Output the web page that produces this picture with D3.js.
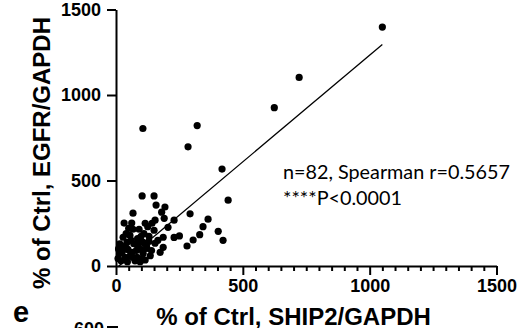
<!DOCTYPE html>
<html>
<head>
<meta charset="utf-8">
<script src="https://cdn.jsdelivr.net/npm/d3@7"></script>
<style>
  body { margin: 0; background: #fff; }
  svg text { font-family: "Liberation Sans", Arial, sans-serif; }
  .axis path, .axis line { stroke: #000; stroke-width: 2; }
</style>
</head>
<body>
<div id="chart"></div>
<script>
// SHIP2 (x) vs EGFR (y), % of Ctrl, n=82
const shipVals = [1050, 722, 624, 106, 320, 284, 418, 442, 292, 363, 343, 330, 304, 280, 403, 422, 250, 229,
  103, 150, 158, 193, 67, 180, 190, 154, 32, 62, 229, 205, 186, 150, 142, 130, 99, 67, 91, 28, 55,
  186, 174, 154, 107, 87, 43, 28, 16, 36, 62, 83, 107, 122, 103, 67, 47, 8, 130,
  20, 45, 75, 95, 115, 135, 55, 25, 80, 100, 120, 70, 40, 60, 85, 110, 125, 50, 15, 140, 90, 10, 35, 165, 115]
const egfrVals = [1397, 1103, 926, 804, 821, 697, 567, 385, 305, 274, 230, 183, 152, 117, 203, 150, 176, 167,
  410, 410, 356, 345, 309, 315, 279, 268, 251, 251, 268, 226, 168, 209, 250, 174, 174, 215, 215, 168, 179,
  109, 80, 133, 138, 109, 138, 109, 74, 50, 80, 50, 74, 103, 44, 50, 97, 44, 144,
  30, 25, 30, 25, 35, 60, 60, 85, 90, 95, 120, 130, 190, 150, 160, 190, 230, 220, 130, 90, 140, 100, 115, 150, 250]
// regression line end points
const fitX = [8, 1050]
const fitY = [-4, 1295]
const xTicks = [0, 500, 1000, 1500]
const yTicks = [0, 500, 1000, 1500]
const statLines = ["n=82, Spearman r=0.5657", "****P<0.0001"]

const width = 526, height = 328

const svg = d3.select("#chart").append("svg")
    .attr("width", width)
    .attr("height", height)

const x = d3.scaleLinear().domain([0, 1500]).range([116, 496.5])
const y = d3.scaleLinear().domain([0, 1500]).range([266, 9.5])

function styleTicks(g) {
    g.selectAll(".tick text")
        .attr("fill", "#000")
        .style("font-family", "'Liberation Sans', Arial, sans-serif")
        .style("font-weight", "bold")
        .style("font-size", "18px")
}

// minor ticks on x
const minor = d3.range(0, 1501, 50).filter(v => v % 500 !== 0)
svg.append("g")
    .attr("class", "axis")
    .attr("transform", `translate(0,${y(0)})`)
    .call(d3.axisBottom(x).tickValues(minor).tickSize(5).tickSizeOuter(0).tickFormat(""))
    .call(g => g.select(".domain").remove())

svg.append("g")
    .attr("class", "axis")
    .attr("transform", `translate(0,${y(0)})`)
    .call(d3.axisBottom(x).tickValues(xTicks).tickSize(9).tickSizeOuter(0).tickPadding(4).tickFormat(d3.format("d")))
    .call(styleTicks)

svg.append("g")
    .attr("class", "axis")
    .attr("transform", `translate(${x(0)},0)`)
    .call(d3.axisLeft(y).tickValues(yTicks).tickSize(9).tickSizeOuter(0).tickPadding(6).tickFormat(d3.format("d")))
    .call(styleTicks)

// regression line
svg.append("line")
    .attr("x1", x(fitX[0])).attr("y1", y(fitY[0]))
    .attr("x2", x(fitX[1])).attr("y2", y(fitY[1]))
    .attr("stroke", "#000")
    .attr("stroke-width", 1.3)

// points
svg.append("g")
    .selectAll("circle")
    .data(shipVals.map((v, i) => [v, egfrVals[i]]))
    .enter().append("circle")
    .attr("cx", d => x(d[0]))
    .attr("cy", d => y(d[1]))
    .attr("r", 3.6)
    .attr("fill", "#000")

// stats text
svg.append("g")
    .selectAll("text")
    .data(statLines)
    .enter().append("text")
    .attr("x", 283)
    .attr("y", (d, i) => 179 + i * 26)
    .style("font-family", "Lato, 'Open Sans', sans-serif")
    .style("font-size", "19.8px")
    .text(d => d)

// axis labels
svg.append("text")
    .attr("transform", "translate(50,153) rotate(-90)")
    .attr("text-anchor", "middle")
    .style("font-weight", "bold")
    .style("font-size", "24px")
    .text("% of Ctrl, EGFR/GAPDH")

svg.append("text")
    .attr("x", 293.5)
    .attr("y", 324.5)
    .attr("text-anchor", "middle")
    .style("font-weight", "bold")
    .style("font-size", "24px")
    .text("% of Ctrl, SHIP2/GAPDH")

// start of next panel (e)
svg.append("text")
    .attr("x", 13)
    .attr("y", 322)
    .style("font-weight", "bold")
    .style("font-size", "29px")
    .text("e")

svg.append("text")
    .attr("x", 104)
    .attr("y", 335)
    .attr("text-anchor", "end")
    .style("font-weight", "bold")
    .style("font-size", "18px")
    .text("600")

svg.append("line")
    .attr("x1", 107).attr("x2", 118)
    .attr("y1", 327).attr("y2", 327)
    .attr("stroke", "#000")
    .attr("stroke-width", 2)
</script>
</body>
</html>
